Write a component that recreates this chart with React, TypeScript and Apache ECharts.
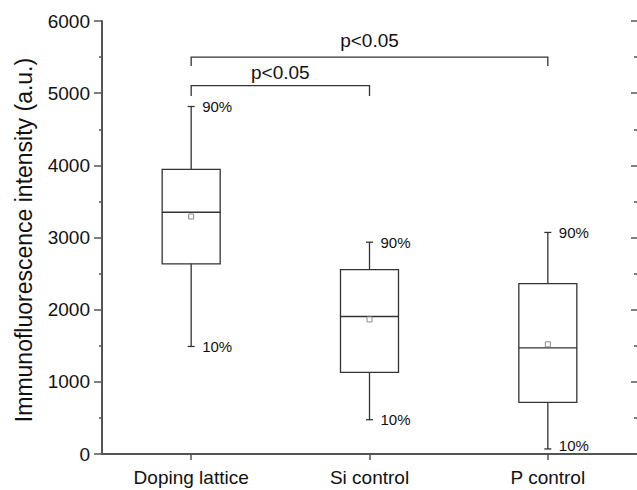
import React, { useEffect, useRef } from "react";
import * as echarts from "echarts";

const categories = ["Doping lattice", "Si control", "P control"];
const p10 = [1490, 475, 70];
const q1 = [2635, 1130, 715];
const median = [3350, 1905, 1470];
const q3 = [3945, 2555, 2360];
const p90 = [4815, 2935, 3070];
const means = [3290, 1865, 1520];
const upperLabel = "90%";
const lowerLabel = "10%";

const bracketFrom = [0, 0];
const bracketTo = [1, 2];
const bracketTop = [5105, 5500];
const bracketEnd = [4960, 5375];
const bracketLabelY = [5283, 5736];
const bracketLabels = ["p<0.05", "p<0.05"];

const yMin = 0;
const yMax = 6000;
const yInterval = 1000;
const yTitle = "Immunofluorescence intensity (a.u.)";

const FONT = "'Liberation Sans', Arial, Helvetica, sans-serif";
const AXIS = "#555";
const LINE = "#333";
const TEXT = "#111";

export default function App() {
  const ref = useRef<HTMLDivElement>(null);

  useEffect(() => {
    if (!ref.current) return;
    const chart = echarts.init(ref.current, undefined, { renderer: "svg" });

    const boxData = categories.map((_, i) => [i, p10[i], q1[i], median[i], q3[i], p90[i], means[i]]);
    const bracketData = bracketFrom.map((f, i) => [f, bracketTo[i], bracketTop[i], bracketEnd[i], bracketLabelY[i]]);

    const yCommon = {
      type: "value",
      min: yMin,
      max: yMax,
      interval: yInterval,
      splitLine: { show: false },
      minorSplitLine: { show: false },
    };

    chart.setOption({
      animation: false,
      backgroundColor: "#fff",
      grid: { left: 102, top: 21, width: 537, height: 433, containLabel: false },
      xAxis: [
        {
          type: "category",
          data: categories,
          position: "bottom",
          boundaryGap: true,
          axisLine: { show: true, lineStyle: { color: AXIS, width: 2 } },
          axisTick: { show: true, alignWithLabel: true, length: 6, lineStyle: { color: AXIS, width: 1.5 } },
          axisLabel: { fontSize: 19, color: TEXT, fontFamily: FONT, margin: 14 },
          splitLine: { show: false },
        },
        {
          type: "category",
          data: categories,
          position: "top",
          boundaryGap: true,
          axisLine: { show: true, lineStyle: { color: AXIS, width: 2 } },
          axisTick: { show: false },
          axisLabel: { show: false },
          splitLine: { show: false },
        },
      ],
      yAxis: [
        {
          ...yCommon,
          position: "left",
          axisLine: { show: true, lineStyle: { color: AXIS, width: 2 } },
          axisTick: { show: true, inside: false, length: 8, lineStyle: { color: AXIS, width: 1.5 } },
          minorTick: { show: true, splitNumber: 2, length: 3, lineStyle: { color: AXIS, width: 1.5 } },
          axisLabel: {
            fontSize: 19,
            color: TEXT,
            fontFamily: FONT,
            margin: 12,
            formatter: (v: number) => String(v),
          },
        },
        {
          ...yCommon,
          position: "right",
          axisLine: { show: false },
          axisTick: { show: true, inside: true, length: 6, lineStyle: { color: AXIS, width: 1.5 } },
          minorTick: { show: true, splitNumber: 2, length: 3, lineStyle: { color: AXIS, width: 1.5 } },
          axisLabel: { show: false },
        },
      ],
      graphic: [
        {
          type: "text",
          x: 24,
          y: 240,
          rotation: Math.PI / 2,
          style: {
            text: yTitle,
            fontSize: 23,
            fontFamily: FONT,
            fill: TEXT,
            align: "center",
            verticalAlign: "middle",
          },
        },
      ],
      series: [
        {
          type: "custom",
          xAxisIndex: 0,
          yAxisIndex: 0,
          data: boxData,
          encode: { x: 0, y: [1, 2, 3, 4, 5, 6] },
          renderItem: (params: any, api: any) => {
            const i = api.value(0);
            const [x, yLo] = api.coord([i, api.value(1)]);
            const yQ1 = api.coord([i, api.value(2)])[1];
            const yMed = api.coord([i, api.value(3)])[1];
            const yQ3 = api.coord([i, api.value(4)])[1];
            const yHi = api.coord([i, api.value(5)])[1];
            const yMean = api.coord([i, api.value(6)])[1];
            const hw = 29;
            const cap = 3.5;
            const ls = { stroke: LINE, lineWidth: 1.3, fill: "none" };
            return {
              type: "group",
              children: [
                { type: "rect", shape: { x: x - hw, y: yQ3, width: hw * 2, height: yQ1 - yQ3 }, style: { ...ls } },
                { type: "line", shape: { x1: x - hw, y1: yMed, x2: x + hw, y2: yMed }, style: { ...ls } },
                { type: "line", shape: { x1: x, y1: yQ3, x2: x, y2: yHi }, style: { ...ls } },
                { type: "line", shape: { x1: x, y1: yQ1, x2: x, y2: yLo }, style: { ...ls } },
                { type: "line", shape: { x1: x - cap, y1: yHi, x2: x + cap, y2: yHi }, style: { ...ls } },
                { type: "line", shape: { x1: x - cap, y1: yLo, x2: x + cap, y2: yLo }, style: { ...ls } },
                {
                  type: "rect",
                  shape: { x: x - 2.5, y: yMean - 2.5, width: 5, height: 5 },
                  style: { stroke: "#888", lineWidth: 1, fill: "#fff" },
                },
                {
                  type: "text",
                  x: x + 11,
                  y: yHi,
                  style: { text: upperLabel, fontSize: 15, fontFamily: FONT, fill: TEXT, align: "left", verticalAlign: "middle" },
                },
                {
                  type: "text",
                  x: x + 11,
                  y: yLo - (yLo > 440 ? 3 : 0),
                  style: { text: lowerLabel, fontSize: 15, fontFamily: FONT, fill: TEXT, align: "left", verticalAlign: "middle" },
                },
              ],
            };
          },
        },
        {
          type: "custom",
          xAxisIndex: 0,
          yAxisIndex: 0,
          data: bracketData,
          encode: { x: [0, 1], y: [2, 3, 4] },
          renderItem: (params: any, api: any) => {
            const idx = params.dataIndex;
            const [x1, yT] = api.coord([api.value(0), api.value(2)]);
            const [x2] = api.coord([api.value(1), api.value(2)]);
            const yE = api.coord([api.value(0), api.value(3)])[1];
            const yL = api.coord([api.value(0), api.value(4)])[1];
            return {
              type: "group",
              children: [
                {
                  type: "polyline",
                  shape: { points: [[x1, yE], [x1, yT], [x2, yT], [x2, yE]] },
                  style: { stroke: LINE, lineWidth: 1.3, fill: "none" },
                },
                {
                  type: "text",
                  x: (x1 + x2) / 2,
                  y: yL,
                  style: {
                    text: bracketLabels[idx],
                    fontSize: 19,
                    fontFamily: FONT,
                    fill: TEXT,
                    align: "center",
                    verticalAlign: "middle",
                  },
                },
              ],
            };
          },
        },
      ],
    });

    return () => chart.dispose();
  }, []);

  return (
    <div
      ref={ref}
      style={{ position: "fixed", left: 0, top: 0, width: 637, height: 490, background: "#fff" }}
    />
  );
}
